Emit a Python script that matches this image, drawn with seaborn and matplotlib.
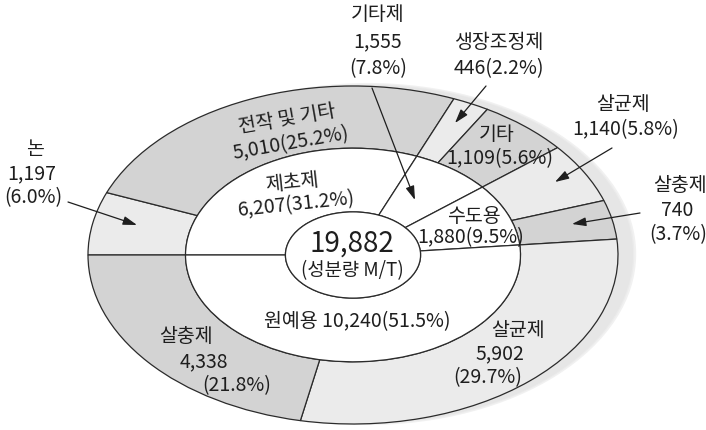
import matplotlib
matplotlib.use("Agg")
import matplotlib.pyplot as plt
import seaborn as sns
from matplotlib.patches import Circle

# ---- data ----
total_label = "19,882"
total_unit = "(성분량 M/T)"

inner_labels = ["제초제", "기타제", "수도용", "원예용"]
inner_values = [6207, 1555, 1880, 10240]

outer_labels = ["논", "전작 및 기타", "생장조정제", "기타", "살균제", "살충제", "살균제", "살충제"]
outer_values = [1197, 5010, 446, 1109, 1140, 740, 5902, 4338]
outer_shades = ["light", "dark", "light", "dark", "light", "dark", "light", "dark"]

sns.set_theme(style="white")
plt.rcParams['font.family'] = ['Noto Sans CJK KR', 'DejaVu Sans']

W, H = 706, 430
fig = plt.figure(figsize=(W / 100, H / 100), dpi=100)
ax = fig.add_axes([0, 0, 1, 1])

CX, CY, A, B = 353, 255, 265, 169  # ellipse centre / semi-axes in pixels
R_IN, R_CORE = 0.632, 0.255

shade = {"light": "#ebebeb", "dark": "#d3d3d3"}
outer_colors = [shade[s] for s in outer_shades]
edge = "#2b2b2b"
lw = 0.9

# soft shadow
for dr, col in [(0.012, "#f1f1f1"), (0.005, "#ebebeb"), (0.0, "#e6e6e6")]:
    ax.add_patch(Circle((15 / A, 1 / B), 1.0 + dr, facecolor=col, edgecolor="none", zorder=0))

ax.pie(outer_values, radius=1.0, startangle=180, counterclock=False, colors=outer_colors,
       wedgeprops=dict(width=1 - R_IN, edgecolor=edge, linewidth=lw))
ax.pie(inner_values, radius=R_IN, startangle=180, counterclock=False, colors=["white"] * 4,
       wedgeprops=dict(width=R_IN - R_CORE, edgecolor=edge, linewidth=lw))
ax.add_patch(Circle((0, 0), R_CORE, facecolor="white", edgecolor=edge, linewidth=lw, zorder=5))

ax.set_aspect("auto")
ax.set_xlim(-CX / A, (W - CX) / A)
ax.set_ylim(-(H - CY) / B, CY / B)
ax.axis("off")

tc = "#1e1e1e"


def fp(x, y):
    return (x / W, 1 - y / H)


def txt(x, y, s, size=14, rot=0):
    fig.text(*fp(x, y), s, ha="center", va="center", fontsize=size, color=tc,
             rotation=rot, rotation_mode="anchor", zorder=10)


def arrow(x0, y0, x1, y1):
    ax.annotate("", xy=fp(x1, y1), xycoords="figure fraction",
                xytext=fp(x0, y0), textcoords="figure fraction",
                arrowprops=dict(arrowstyle="-|>,head_length=0.7,head_width=0.22",
                                color=tc, lw=0.9, shrinkA=0, shrinkB=0), zorder=10)


# centre
txt(352, 244, total_label, size=20)
txt(352, 271, total_unit, size=13.5)

# inner labels
txt(292, 183, inner_labels[0], rot=6)
txt(296, 205, f"{inner_values[0]:,}(31.2%)", rot=6)
txt(474, 216, inner_labels[2])
txt(471, 238, f"{inner_values[2]:,}(9.5%)")
txt(357, 322, f"{inner_labels[3]} {inner_values[3]:,}(51.5%)")
txt(378, 15, inner_labels[1])
txt(378, 42, f"{inner_values[1]:,}")
txt(378, 69, "(7.8%)")
arrow(372, 88, 415, 200)

# outer labels
txt(35, 150, outer_labels[0])
txt(32, 174, f"{outer_values[0]:,}")
txt(33, 198, "(6.0%)")
arrow(68, 202, 137, 225)

txt(287, 119, outer_labels[1], rot=10)
txt(291, 144, f"{outer_values[1]:,}(25.2%)", rot=10)

txt(499, 42, outer_labels[2])
txt(499, 69, f"{outer_values[2]:,}(2.2%)")
arrow(486, 86, 455, 123)

txt(497, 134, outer_labels[3])
txt(500, 159, f"{outer_values[3]:,}(5.6%)")

txt(623, 105, outer_labels[4])
txt(626, 130, f"{outer_values[4]:,}(5.8%)")
arrow(612, 148, 555, 182)

txt(680, 186, outer_labels[5])
txt(677, 211, f"{outer_values[5]:,}")
txt(678, 235, "(3.7%)")
arrow(640, 213, 572, 224)

txt(518, 330, outer_labels[6])
txt(500, 354, f"{outer_values[6]:,}")
txt(488, 378, "(29.7%)")

txt(186, 337, outer_labels[7])
txt(204, 362, f"{outer_values[7]:,}")
txt(237, 386, "(21.8%)")

fig.savefig("out.png", dpi=100, facecolor="white")
